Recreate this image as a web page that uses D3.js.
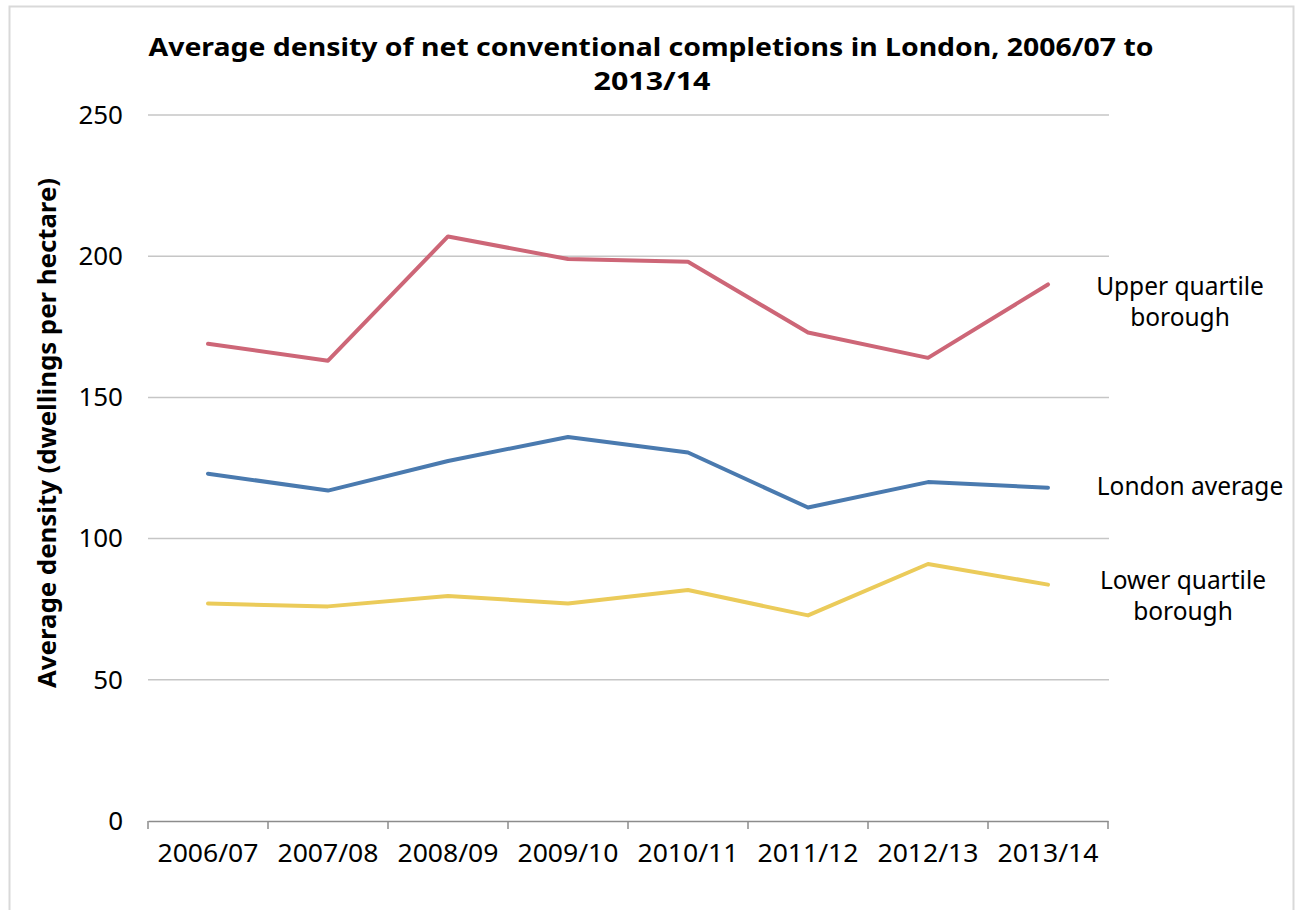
<!DOCTYPE html>
<html><head><meta charset="utf-8">
<script src="https://cdn.jsdelivr.net/npm/d3@7"></script>
<style>body{margin:0;background:#fff}svg{display:block}text{font-family:"Noto Sans","Open Sans",sans-serif;fill:#000}</style>
</head><body><svg id="c" width="1295" height="910"></svg>
<script>
const categories=["2006/07","2007/08","2008/09","2009/10","2010/11","2011/12","2012/13","2013/14"];
const upperQuartile=[169,163,207,199,198,173,164,190];
const londonAverage=[123,117,127.5,136,130.5,111,120,118];
const lowerQuartile=[77,76,79.7,77,81.8,72.8,91,83.7];
const yTicks=[0,50,100,150,200,250];
const seriesNames=[["Upper quartile","borough"],["London average"],["Lower quartile","borough"]];
const seriesColors=["#CD6677","#4A7AAF","#EBCB5A"];
const series=[upperQuartile,londonAverage,lowerQuartile];

const svg=d3.select("#c");
svg.append("rect").attr("x",9.5).attr("y",6.5).attr("width",1284).attr("height",910).attr("fill","none").attr("stroke","#d9d9d9").attr("stroke-width",2);

const x=d3.scaleBand().domain(categories).range([148,1108]);
const y=d3.scaleLinear().domain([0,250]).range([821,115]);

svg.append("g").selectAll("line").data(yTicks.filter(d=>d>0)).join("line")
 .attr("x1",148).attr("x2",1109).attr("y1",d=>y(d)).attr("y2",d=>y(d))
 .attr("stroke","#c6c6c6").attr("stroke-width",1.5);

const ya=svg.append("g").attr("transform","translate(148,0)").call(d3.axisLeft(y).tickValues(yTicks).tickSize(0).tickPadding(25));
ya.select(".domain").remove();
ya.selectAll("text").attr("font-size",26).attr("font-family","Noto Sans");

const xa=svg.append("g").attr("transform","translate(0,821)").call(d3.axisBottom(x).tickSize(0).tickPadding(23));
xa.select(".domain").attr("stroke","#8c8c8c").attr("stroke-width",1.5);
xa.selectAll("text").attr("font-size",26).attr("font-family","Noto Sans").attr("textLength",101).attr("lengthAdjust","spacingAndGlyphs");
svg.append("g").selectAll("line").data(d3.range(categories.length+1)).join("line")
 .attr("x1",i=>148+i*x.step()).attr("x2",i=>148+i*x.step()).attr("y1",821).attr("y2",829)
 .attr("stroke","#8c8c8c").attr("stroke-width",1.5);

const line=d3.line().x((d,i)=>x(categories[i])+x.bandwidth()/2).y(d=>y(d));
series.forEach((s,k)=>{
 svg.append("path").datum(s).attr("d",line).attr("fill","none").attr("stroke",seriesColors[k]).attr("stroke-width",4).attr("stroke-linejoin","round").attr("stroke-linecap","round");
});

const labelPos=[[1180,295],[1190,495],[1183,589]];
seriesNames.forEach((n,k)=>{
 const t=svg.append("text").attr("text-anchor","middle").attr("font-size",24.5).attr("x",labelPos[k][0]).attr("y",labelPos[k][1]);
 n.forEach((s,j)=>t.append("tspan").attr("x",labelPos[k][0]).attr("dy",j?31:0).text(s));
});

svg.append("text").attr("text-anchor","middle").attr("font-size",24.5).attr("font-weight","bold")
 .attr("x",651).attr("y",56).attr("textLength",1005).attr("lengthAdjust","spacingAndGlyphs")
 .text("Average density of net conventional completions in London, 2006/07 to");
svg.append("text").attr("text-anchor","middle").attr("font-size",24.5).attr("font-weight","bold")
 .attr("x",652).attr("y",90).attr("textLength",117).attr("lengthAdjust","spacingAndGlyphs").text("2013/14");

svg.append("text").attr("transform","translate(56,433) rotate(-90)").attr("text-anchor","middle").attr("font-size",25).attr("font-weight","bold").attr("textLength",510).attr("lengthAdjust","spacingAndGlyphs").text("Average density (dwellings per hectare)");
</script></body></html>
